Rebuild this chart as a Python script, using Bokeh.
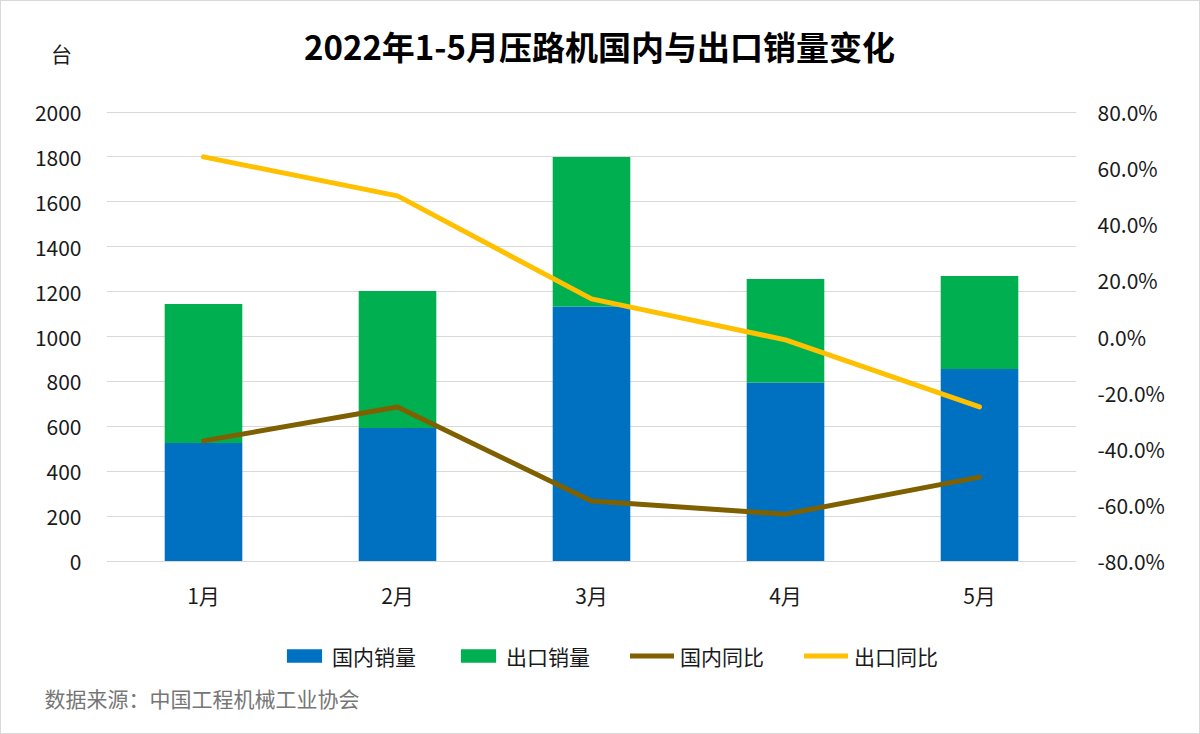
from bokeh.plotting import figure
from bokeh.models import (ColumnDataSource, LinearAxis, Range1d, Label, Legend, LegendItem,
                          FixedTicker, CustomJSTickFormatter, FactorRange, Title)
from bokeh.core.properties import value
from bokeh.embed import file_html
from bokeh.resources import INLINE

months = ["1月", "2月", "3月", "4月", "5月"]
domestic_sales = [526, 592, 1134, 795, 855]
export_sales = [619, 611, 666, 461, 414]
domestic_yoy = [-37.2, -25.1, -58.6, -63.3, -50.1]
export_yoy = [64.0, 50.1, 13.4, -1.2, -25.1]

title_text = "2022年1-5月压路机国内与出口销量变化"
unit_text = "台"
source_text = "数据来源：中国工程机械工业协会"
legend_labels = ["国内销量", "出口销量", "国内同比", "出口同比"]
left_ticks = [0, 200, 400, 600, 800, 1000, 1200, 1400, 1600, 1800, 2000]
right_ticks = [-80, -60, -40, -20, 0, 20, 40, 60, 80]

FONT = "Noto Sans CJK SC"
BLUE = "#0070C0"
GREEN = "#00B050"
BROWN = "#7F6000"
YELLOW = "#FFC000"
GRID = "#d9d9d9"
TEXT = "#1a1a1a"

# layout (pixels)
W, H = 1200, 734
FRAME_L, FRAME_R = 105, 1075
ZERO_Y = 559.5          # pixel row of value 0 / -80%
AXIS_PX = 449           # pixels between 0 and 2000
FRAME_B = 677           # frame bottom (source title panel below)
px_left = left_ticks[-1] / AXIS_PX
px_pct = (right_ticks[-1] - right_ticks[0]) / AXIS_PX

y_min = -(FRAME_B - ZERO_Y) * px_left
y_max = ZERO_Y * px_left
pct_min = right_ticks[0] - (FRAME_B - ZERO_Y) * px_pct
pct_max = right_ticks[0] + ZERO_Y * px_pct
unit_tick = (ZERO_Y - 51) * px_left
month_label_y = -(593 - ZERO_Y) * px_left

src = ColumnDataSource(dict(
    month=months,
    domestic=domestic_sales,
    export=export_sales,
    dyoy=domestic_yoy,
    eyoy=export_yoy,
    label_y=[month_label_y] * len(months),
))

p = figure(width=W, height=H, x_range=FactorRange(*months), y_range=Range1d(y_min, y_max),
           output_backend="svg", toolbar_location=None,
           min_border_left=FRAME_L, min_border_right=W - FRAME_R, min_border_top=0,
           min_border_bottom=H - FRAME_B)
p.styles = {"border": "1px solid #d9d9d9"}
p.outline_line_color = None
p.background_fill_color = "white"
p.border_fill_color = "white"

p.extra_y_ranges = {"pct": Range1d(pct_min, pct_max)}

p.xgrid.grid_line_color = None
p.ygrid.ticker = FixedTicker(ticks=left_ticks)
p.ygrid.grid_line_color = GRID
p.ygrid.grid_line_width = 1

bars = p.vbar_stack(["domestic", "export"], x="month", width=0.4, source=src,
                    color=[BLUE, GREEN], line_color=None)
l1 = p.line("month", "dyoy", source=src, y_range_name="pct", line_color=BROWN, line_width=5,
            line_join="round", line_cap="round")
l2 = p.line("month", "eyoy", source=src, y_range_name="pct", line_color=YELLOW, line_width=5,
            line_join="round", line_cap="round")

# category labels under the zero line
p.text(x="month", y="label_y", text="month", source=src, text_font=value(FONT),
       text_font_size="21px", text_color=TEXT, text_align="center", text_baseline="middle")
p.xaxis.visible = False

# left axis (with the unit label on top)
ax = p.yaxis[0]
ax.ticker = FixedTicker(ticks=left_ticks + [unit_tick])
ax.major_label_overrides = {unit_tick: unit_text + "\u00a0\u00a0"}
ax.axis_line_color = None
ax.major_tick_line_color = None
ax.minor_tick_line_color = None
ax.major_label_text_font = FONT
ax.major_label_text_font_size = "21px"
ax.major_label_text_color = TEXT
ax.major_label_standoff = 19

ra = LinearAxis(y_range_name="pct", ticker=FixedTicker(ticks=right_ticks))
ra.formatter = CustomJSTickFormatter(code="return tick.toFixed(1) + '%';")
ra.axis_line_color = None
ra.major_tick_line_color = None
ra.minor_tick_line_color = None
ra.major_label_text_font = FONT
ra.major_label_text_font_size = "21px"
ra.major_label_text_color = TEXT
ra.major_label_standoff = 15
p.add_layout(ra, "right")

# legend (inside the extended frame, under the category labels)
legend = Legend(items=[
    LegendItem(label=legend_labels[0], renderers=[bars[0]]),
    LegendItem(label=legend_labels[1], renderers=[bars[1]]),
    LegendItem(label=legend_labels[2], renderers=[l1]),
    LegendItem(label=legend_labels[3], renderers=[l2]),
], orientation="horizontal", location=(281 - FRAME_L, FRAME_B - 669.5))
legend.border_line_color = None
legend.background_fill_alpha = 0
legend.padding = 0
legend.margin = 0
legend.spacing = 40
legend.glyph_width = 44
legend.glyph_height = 17
legend.label_height = 21
legend.label_standoff = 6
legend.label_text_font = FONT
legend.label_text_font_size = "21px"
legend.label_text_color = TEXT
p.add_layout(legend, "center")

# source note
src_title = Title(text=source_text, align="left", offset=43 - FRAME_L, standoff=5,
                  text_font=FONT, text_font_size="21px", text_font_style="normal",
                  text_color="#767676")
p.add_layout(src_title, "below")

# chart title
p.add_layout(Label(x=598 - FRAME_L, y=FRAME_B - 44, x_units="screen", y_units="screen",
                   text=title_text, text_font=FONT, text_font_size="33px",
                   text_font_style="bold", text_color="#000000",
                   text_align="center", text_baseline="middle"))

open("out.html", "w").write(file_html(p, INLINE))
